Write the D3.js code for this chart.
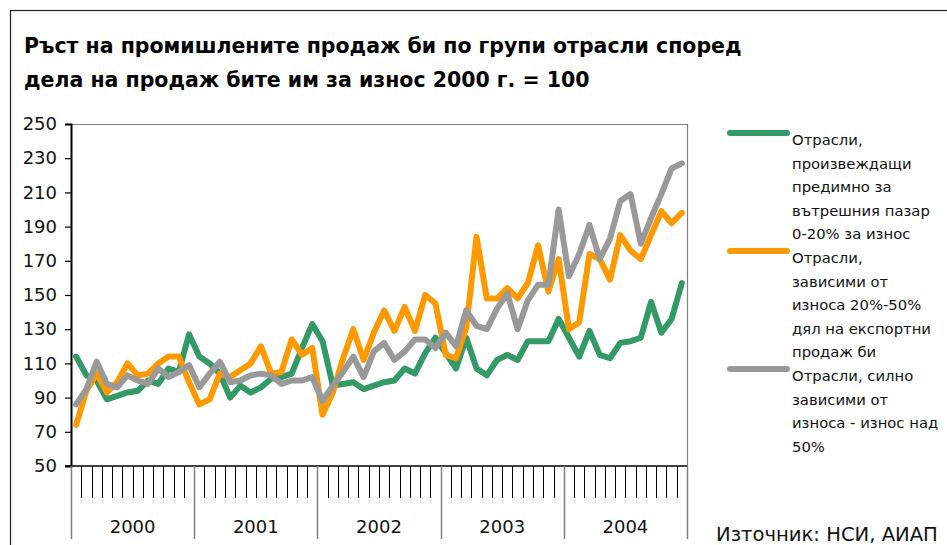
<!DOCTYPE html>
<html><head><meta charset="utf-8">
<script src="https://cdn.jsdelivr.net/npm/d3@7"></script>
<style>html,body{margin:0;padding:0;background:#fff;overflow:hidden}svg{display:block;font-family:"DejaVu Sans",Verdana,sans-serif}</style>
</head><body>
<svg id="c" width="947" height="545"></svg>
<script>
const titleLines = ["Ръст на промишлените продаж би по групи отрасли според", "дела на продаж бите им за износ 2000 г. = 100"];
const years = ["2000", "2001", "2002", "2003", "2004"];
const months = d3.range(60);
const yTicks = [50, 70, 90, 110, 130, 150, 170, 190, 210, 230, 250];
const seriesNames = [
  ["Отрасли,", "произвеждащи", "предимно за", "вътрешния пазар", "0-20% за износ"],
  ["Отрасли,", "зависими от", "износа 20%-50%", "дял на експортни", "продаж би"],
  ["Отрасли, силно", "зависими от", "износа - износ над", "50%"]
];
const seriesColors = ["#339966", "#FF9900", "#999999"];
const domestic = [114,103,100,89,91,93,94,100,98,107,105,127,114,110,104,90,97,93,96,101,
                  102,104,119,133,123,97,98,99,95,97,99,100,107,104,116,125,116,107,125,107,
                  103,112,115,112,123,123,123,136,125,114,129,115,113,122,123,125,146,128,136,157];
const medium = [74,94,104,93,99,110,103,104,110,114,114,99,86,89,104,102,106,110,120,104,
                105,124,115,119,80,93,113,130,112,128,141,129,143,129,150,145,115,113,131,184,
                148,148,154,148,157,179,152,171,130,134,174,171,159,185,176,171,185,199,192,198];
const strong = [86,95,111,98,96,103,100,98,107,102,105,109,96,104,111,99,100,103,104,103,
                98,100,100,102,88,97,105,114,102,117,122,112,117,124,124,119,128,120,141,132,
                130,142,151,130,147,156,156,200,161,174,191,171,183,205,209,180,195,209,224,227];
const seriesValues = [domestic, medium, strong];
const sourceText = "Източник: НСИ, АИАП";

const svg = d3.select("#c");
const L = 71, R = 687, T = 124, B = 466;

function fit(sel, width) {
  const fs = parseFloat(sel.attr("font-size"));
  const w = sel.node().getComputedTextLength();
  sel.attr("font-size", fs * width / w);
  return fs * width / w;
}

// outer frame
svg.append("rect").attr("x", 10.5).attr("y", 10.5).attr("width", 1000).attr("height", 1000)
  .attr("fill", "none").attr("stroke", "#222").attr("stroke-width", 1.2);

// title
const t1 = svg.append("text").attr("x", 24).attr("y", 53).attr("font-weight", "bold")
  .attr("font-size", 19).attr("fill", "#000").text(titleLines[0]);
const tfs = fit(t1, 718);
svg.append("text").attr("x", 24).attr("y", 87).attr("font-weight", "bold")
  .attr("font-size", tfs).attr("fill", "#000").text(titleLines[1]);

const x = d3.scaleBand().domain(months).range([L, R]).padding(0);
const y = d3.scaleLinear().domain([50, 250]).range([B, T]);
const cx = i => x(i) + x.bandwidth() / 2;

// plot frame top/right
svg.append("path").attr("d", `M${L},${T+0.5}H${R+0.5}V${B}`).attr("fill", "none")
  .attr("stroke", "#808080").attr("stroke-width", 1.2);

// y axis
const ya = svg.append("g").attr("transform", `translate(${L},0)`)
  .call(d3.axisLeft(y).tickValues(yTicks).tickSize(6).tickPadding(8).tickFormat(d3.format("d")));
ya.select(".domain").attr("stroke", "#000").attr("stroke-width", 2);
ya.selectAll(".tick line").attr("stroke", "#000").attr("stroke-width", 1.2);
ya.selectAll(".tick text").attr("font-size", 18).attr("fill", "#111")
  .attr("font-family", "DejaVu Sans, Verdana, sans-serif");

// x axis baseline
svg.append("line").attr("x1", L - 6).attr("x2", R).attr("y1", B).attr("y2", B)
  .attr("stroke", "#000").attr("stroke-width", 1.5);

// month ticks and year dividers
const bounds = d3.range(61);
svg.append("g").selectAll("line").data(bounds).join("line")
  .attr("x1", i => i < 60 ? Math.round(x(i)) + 0.5 : R + 0.5)
  .attr("x2", i => i < 60 ? Math.round(x(i)) + 0.5 : R + 0.5)
  .attr("y1", B)
  .attr("y2", i => i % 12 === 0 ? 539 : 498)
  .attr("stroke", i => i % 12 === 0 ? "#808080" : "#000")
  .attr("stroke-width", i => i % 12 === 0 ? 1.5 : 1);

svg.append("g").selectAll("text").data(years).join("text")
  .attr("x", (d, k) => (x(k * 12) + (k * 12 + 12 < 60 ? x(k * 12 + 12) : R)) / 2)
  .attr("y", 533).attr("text-anchor", "middle").attr("font-size", 18).attr("fill", "#111")
  .text(d => d);

// lines
const line = d3.line().x((d, i) => cx(i)).y(d => y(d)).curve(d3.curveLinear);
svg.append("g").selectAll("path").data(seriesValues).join("path")
  .attr("d", line).attr("fill", "none")
  .attr("stroke", (d, k) => seriesColors[k]).attr("stroke-width", 6)
  .attr("stroke-linejoin", "round").attr("stroke-linecap", "round");

// legend
const lg = svg.append("g");
const lineYs = [133, 251, 369];
let lfs = 15.5;
const probe = lg.append("text").attr("font-size", lfs).text(seriesNames[0][3]);
lfs = fit(probe, 138);
probe.remove();
seriesNames.forEach((rows, k) => {
  lg.append("line").attr("x1", 730).attr("x2", 787).attr("y1", lineYs[k]).attr("y2", lineYs[k])
    .attr("stroke", seriesColors[k]).attr("stroke-width", 6).attr("stroke-linecap", "round");
  rows.forEach((r, j) => {
    lg.append("text").attr("x", 792).attr("y", lineYs[k] + 12 + j * 23.5)
      .attr("font-size", lfs).attr("fill", "#111").text(r);
  });
});

// source
const src = svg.append("text").attr("x", 716).attr("y", 541).attr("font-size", 18)
  .attr("fill", "#111").text(sourceText);
fit(src, 222);
</script>
</body></html>
